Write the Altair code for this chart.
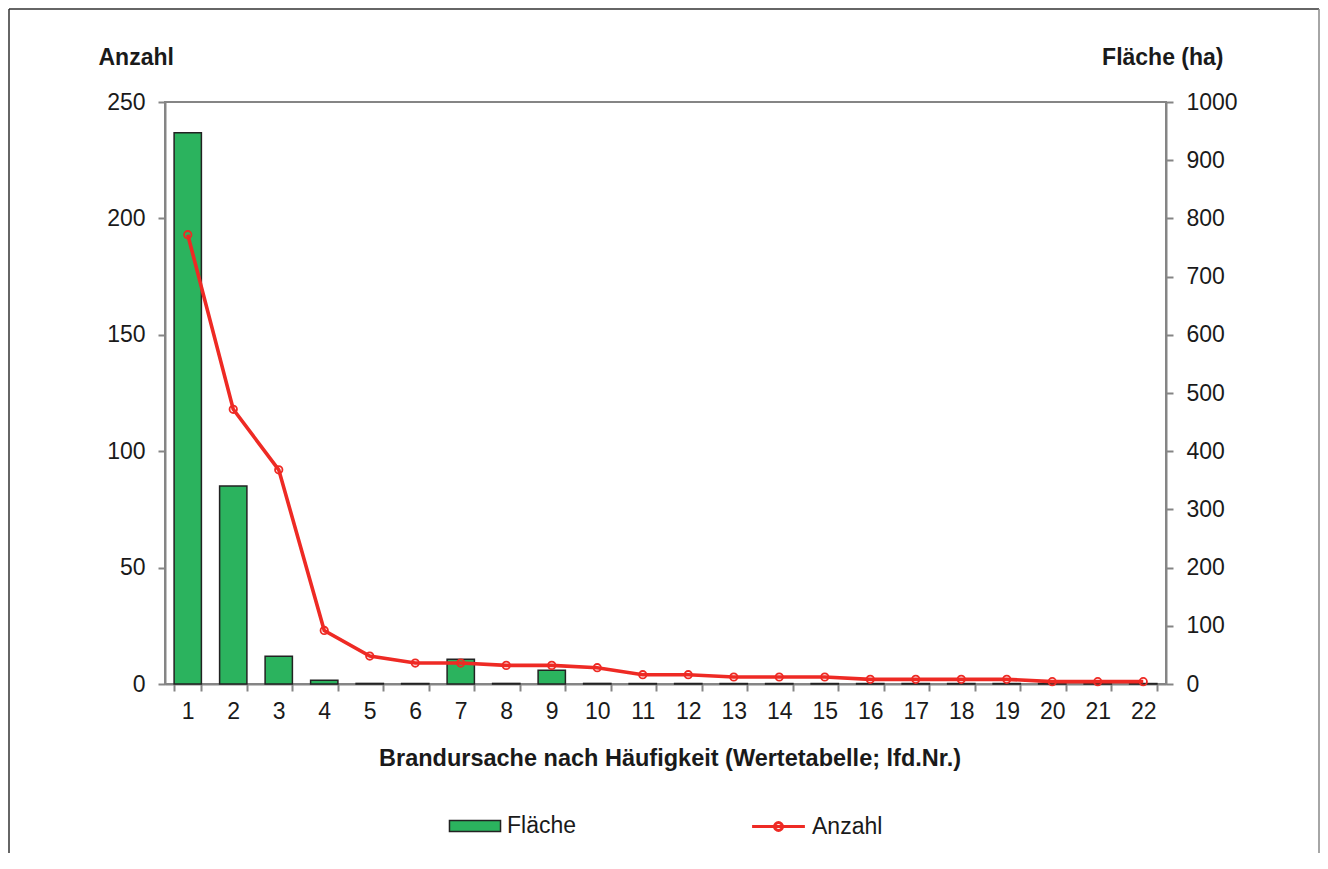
import altair as alt
import pandas as pd

# ---- data ----
nr = list(range(1, 23))
flaeche_ha = [947, 340, 47.6, 6.4, 1, 1, 42.4, 1, 23.5, 1, 0.8, 0.8, 0.8, 0.8,
              0.8, 0.8, 0.8, 0.8, 0.8, 0.8, 0.8, 0.8]
anzahl = [193, 118, 92, 23, 12, 9, 9, 8, 8, 7, 4, 4, 3, 3, 3, 2, 2, 2, 2, 1, 1, 1]
left_ticks = [0, 50, 100, 150, 200, 250]
right_ticks = list(range(0, 1001, 100))

df = pd.DataFrame({
    "nr": nr,
    "flaeche": flaeche_ha,
    "anzahl": anzahl,
    "s_f": ["Fläche"] * len(nr),
    "s_a": ["Anzahl"] * len(nr),
})

FONT = "Liberation Sans"
GRAY = "#858585"
TXT = "#1a1a1a"
GREEN = "#2BB35E"
RED = "#EE2A24"
FS = 23

W, H = 1001, 582
PAD = {"left": 157, "top": 94, "right": 154, "bottom": 169}

x = alt.X(
    "nr:O",
    scale=alt.Scale(paddingInner=0.4, paddingOuter=0.2),
    axis=alt.Axis(
        title="Brandursache nach Häufigkeit (Wertetabelle; lfd.Nr.)",
        labelAngle=0,
        tickBand="extent",
        labelPadding=9,
        titleX=W / 2 + 4,
        titleY=81,
        titleAlign="center",
        titleBaseline="alphabetic",
        titleAnchor="start",
        titleFontSize=23.5,
    ),
)

RECT = "M-2.32,-0.5H2.32V0.5H-2.32Z"
LINESYM = "M-2.4,0H2.4M0.36,0A0.36,0.36,0,1,1,-0.36,0A0.36,0.36,0,1,1,0.36,0"

bars = alt.Chart(df).mark_bar(stroke="#222222", strokeWidth=1.5).encode(
    x=x,
    y=alt.Y(
        "flaeche:Q",
        scale=alt.Scale(domain=[0, 1000], nice=False),
        axis=alt.Axis(
            orient="right",
            values=right_ticks,
            format="d",
            title="Fläche (ha)",
            titleAngle=0,
            titleAlign="right",
            titleBaseline="alphabetic",
            titleX=57,
            titleY=-38,
            labelPadding=13,
        ),
    ),
    fill=alt.Fill(
        "s_f:N",
        scale=alt.Scale(domain=["Fläche"], range=[GREEN]),
        legend=alt.Legend(
            title=None,
            orient="none",
            legendX=298,
            legendY=712,
            symbolType=RECT,
            symbolSize=484,
            symbolStrokeColor="#222222",
            symbolStrokeWidth=1.5,
            labelOffset=20,
            padding=0,
        ),
    ),
)

line = alt.Chart(df).mark_line(
    strokeWidth=3.6,
    point=alt.OverlayMarkDef(filled=False, size=55, strokeWidth=1.8),
).encode(
    x=x,
    y=alt.Y(
        "anzahl:Q",
        scale=alt.Scale(domain=[0, 250], nice=False),
        axis=alt.Axis(
            orient="left",
            values=left_ticks,
            format="d",
            title="Anzahl",
            titleAngle=0,
            titleAlign="left",
            titleBaseline="alphabetic",
            titleX=-67,
            titleY=-38,
            labelPadding=13,
        ),
    ),
    stroke=alt.Stroke(
        "s_a:N",
        scale=alt.Scale(domain=["Anzahl"], range=[RED]),
        legend=alt.Legend(
            title=None,
            orient="none",
            legendX=601,
            legendY=712,
            symbolType=LINESYM,
            symbolSize=484,
            symbolStrokeWidth=3,
            labelOffset=21,
            padding=0,
        ),
    ),
)

one = pd.DataFrame({"k": [0]})
frame_top = alt.Chart(one).mark_rule(color="#333333", strokeWidth=1.5).encode(
    x=alt.value(-156), x2=alt.value(W + PAD["right"] - 1), y=alt.value(-93)
)
frame_left = alt.Chart(one).mark_rule(color="#333333", strokeWidth=1.5).encode(
    x=alt.value(-156), y=alt.value(-93), y2=alt.value(H + PAD["bottom"])
)
frame_right = alt.Chart(one).mark_rule(color="#888888", strokeWidth=1.5).encode(
    x=alt.value(W + PAD["right"] - 1), y=alt.value(-93), y2=alt.value(H + PAD["bottom"])
)

chart = (
    alt.layer(bars, line, frame_top, frame_left, frame_right)
    .resolve_scale(y="independent", fill="independent", stroke="independent")
    .properties(width=W, height=H, autosize="none", padding=PAD)
    .configure_view(stroke=GRAY, strokeWidth=2)
    .configure_axis(
        grid=False,
        domainColor=GRAY,
        domainWidth=2,
        tickColor=GRAY,
        tickWidth=2,
        tickSize=7,
        labelFont=FONT,
        labelFontSize=FS,
        labelColor=TXT,
        titleFont=FONT,
        titleFontSize=FS,
        titleFontWeight="bold",
        titleColor=TXT,
    )
    .configure_legend(labelFont=FONT, labelFontSize=FS, labelColor=TXT)
)

chart.save("out.html", embed_options={"renderer": "svg", "actions": False})
